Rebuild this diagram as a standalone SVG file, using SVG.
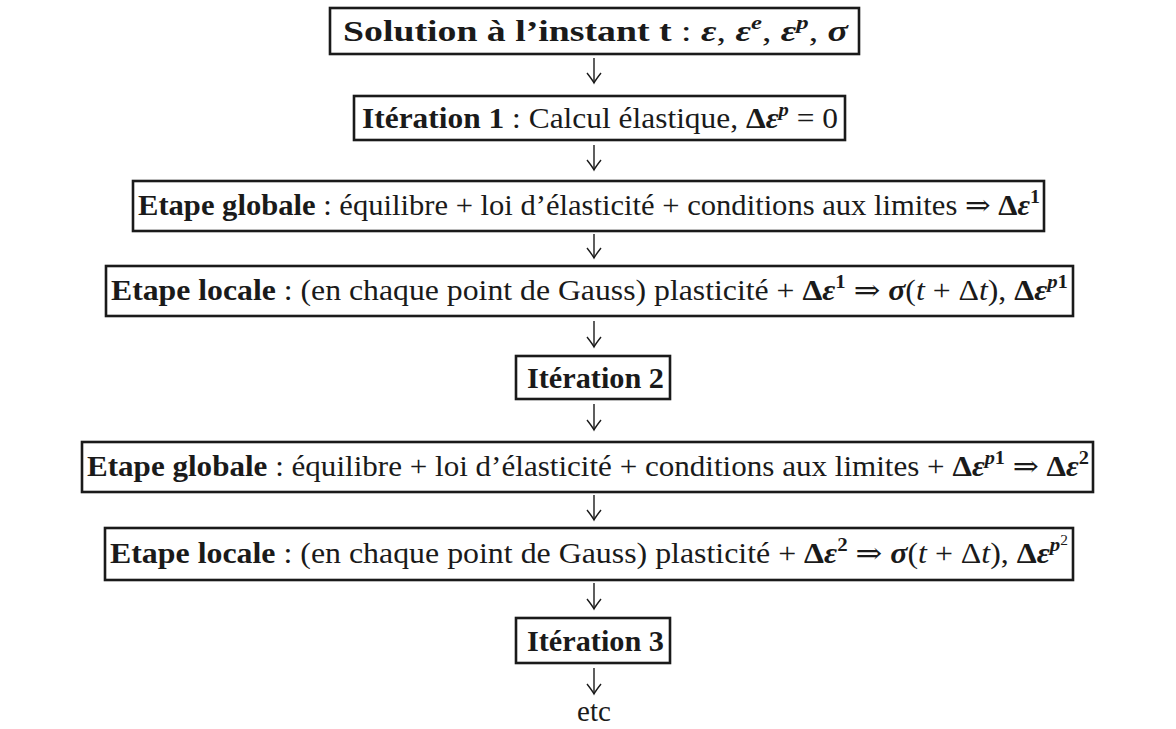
<svg xmlns="http://www.w3.org/2000/svg" width="1176" height="729" viewBox="0 0 1176 729">
<defs>
<style>
.box{fill:#fff;stroke:#1a1a1a;stroke-width:2.6}
.t{font-family:"Liberation Serif","DejaVu Serif",serif;font-size:29px;fill:#1a1a1a}
.b{font-weight:bold}
.bi{font-weight:bold;font-style:italic}
.i{font-style:italic}
.sup{font-size:19px}
.arr{stroke:#1a1a1a;stroke-width:1.4;fill:none}
</style>
<marker id="ah" markerUnits="userSpaceOnUse" markerWidth="24" markerHeight="24" viewBox="-12 -12 24 24" refX="0" refY="0" orient="auto" overflow="visible">
<path d="M-10,-7 Q-3,-1.5 0,0 Q-3,1.5 -10,7" fill="none" stroke="#1a1a1a" stroke-width="1.4"/>
</marker>
</defs>
<rect width="1176" height="729" fill="#fff"/>
<g id="connectors">
<path class="arr" d="M594,58 V83" marker-end="url(#ah)"/>
<path class="arr" d="M594,145 V170" marker-end="url(#ah)"/>
<path class="arr" d="M594,234 V258" marker-end="url(#ah)"/>
<path class="arr" d="M594,321 V347" marker-end="url(#ah)"/>
<path class="arr" d="M594,404 V430" marker-end="url(#ah)"/>
<path class="arr" d="M594,495 V520" marker-end="url(#ah)"/>
<path class="arr" d="M594,583 V609" marker-end="url(#ah)"/>
<path class="arr" d="M594,668 V694" marker-end="url(#ah)"/>
</g>
<g id="n1">
<rect class="box" x="330" y="8" width="529" height="46"/>
<text class="t" x="343" y="41" textLength="505" lengthAdjust="spacingAndGlyphs"><tspan class="b">Solution à l’instant t</tspan> : <tspan class="bi">ε</tspan>, <tspan class="bi">ε</tspan><tspan class="bi sup" dy="-12">e</tspan><tspan dy="12">, </tspan><tspan class="bi">ε</tspan><tspan class="bi sup" dy="-12">p</tspan><tspan dy="12">, </tspan><tspan class="bi">σ</tspan></text>
</g>
<g id="n2">
<rect class="box" x="354" y="96" width="491" height="44"/>
<text class="t" x="362" y="128" textLength="476" lengthAdjust="spacingAndGlyphs"><tspan class="b">Itération 1</tspan> : Calcul élastique, <tspan class="b">Δ</tspan><tspan class="bi">ε</tspan><tspan class="bi sup" dy="-12">p</tspan><tspan dy="12"> = 0</tspan></text>
</g>
<g id="n3">
<rect class="box" x="133" y="181" width="911" height="50"/>
<text class="t" x="138" y="215" textLength="902" lengthAdjust="spacingAndGlyphs"><tspan class="b">Etape globale</tspan> : équilibre + loi d’élasticité + conditions aux limites ⇒ <tspan class="b">Δ</tspan><tspan class="bi">ε</tspan><tspan class="b sup" dy="-12">1</tspan></text>
</g>
<g id="n4">
<rect class="box" x="106" y="266" width="967" height="50"/>
<text class="t" x="111" y="300" textLength="957" lengthAdjust="spacingAndGlyphs"><tspan class="b">Etape locale</tspan> :  (en chaque point de Gauss) plasticité + <tspan class="b">Δ</tspan><tspan class="bi">ε</tspan><tspan class="b sup" dy="-12">1</tspan><tspan dy="12"> ⇒ </tspan><tspan class="bi">σ</tspan>(<tspan class="i">t</tspan> + Δ<tspan class="i">t</tspan>), <tspan class="b">Δ</tspan><tspan class="bi">ε</tspan><tspan class="bi sup" dy="-12">p</tspan><tspan class="b sup">1</tspan></text>
</g>
<g id="n5">
<rect class="box" x="516" y="356" width="154" height="43"/>
<text class="t b" x="527" y="388" textLength="137" lengthAdjust="spacingAndGlyphs">Itération 2</text>
</g>
<g id="n6">
<rect class="box" x="82" y="442" width="1011" height="50"/>
<text class="t" x="87" y="476" textLength="1002" lengthAdjust="spacingAndGlyphs"><tspan class="b">Etape globale</tspan> : équilibre + loi d’élasticité + conditions aux limites + <tspan class="b">Δ</tspan><tspan class="bi">ε</tspan><tspan class="bi sup" dy="-12">p</tspan><tspan class="b sup">1</tspan><tspan dy="12"> ⇒ </tspan><tspan class="b">Δ</tspan><tspan class="bi">ε</tspan><tspan class="b sup" dy="-12">2</tspan></text>
</g>
<g id="n7">
<rect class="box" x="105" y="528" width="968" height="52"/>
<text class="t" x="110" y="563" textLength="958" lengthAdjust="spacingAndGlyphs"><tspan class="b">Etape locale</tspan> :  (en chaque point de Gauss) plasticité + <tspan class="b">Δ</tspan><tspan class="bi">ε</tspan><tspan class="b sup" dy="-12">2</tspan><tspan dy="12"> ⇒ </tspan><tspan class="bi">σ</tspan>(<tspan class="i">t</tspan> + Δ<tspan class="i">t</tspan>), <tspan class="b">Δ</tspan><tspan class="bi">ε</tspan><tspan class="bi sup" dy="-12">p</tspan><tspan style="font-size:14px" dy="-6">2</tspan></text>
</g>
<g id="n8">
<rect class="box" x="516" y="618" width="154" height="45"/>
<text class="t b" x="527" y="651" textLength="137" lengthAdjust="spacingAndGlyphs">Itération 3</text>
</g>
<g id="n9">
<text class="t" x="594" y="721" text-anchor="middle">etc</text>
</g>
</svg>
